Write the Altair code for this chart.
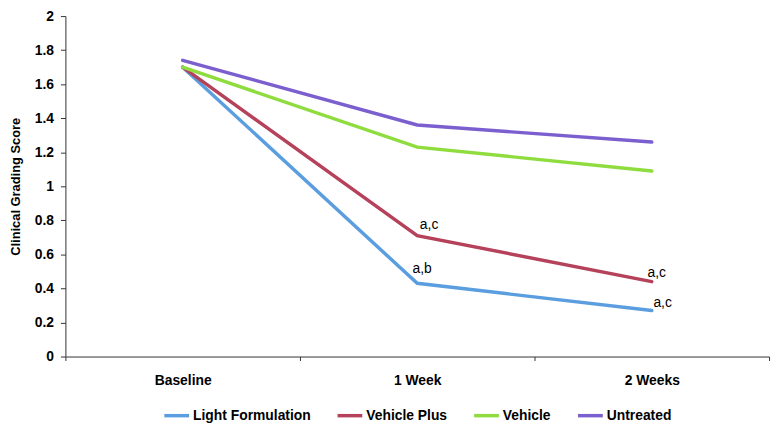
import altair as alt
import pandas as pd

timepoints = ["Baseline", "1 Week", "2 Weeks"]
series_names = ["Light Formulation", "Vehicle Plus", "Vehicle", "Untreated"]
light = [1.70, 0.43, 0.27]
vehicle_plus = [1.70, 0.71, 0.44]
vehicle = [1.70, 1.23, 1.09]
untreated = [1.74, 1.36, 1.26]
y_ticks = [0, 0.2, 0.4, 0.6, 0.8, 1, 1.2, 1.4, 1.6, 1.8, 2]
colors = ["#5b9edf", "#b5425a", "#8fdc3f", "#7b5fcf"]

# significance annotations: (series, timepoint, text)
annotations = [
    ("Light Formulation", "1 Week", "a,b"),
    ("Vehicle Plus", "1 Week", "a,c"),
    ("Vehicle Plus", "2 Weeks", "a,c"),
    ("Light Formulation", "2 Weeks", "a,c"),
]
ann_offsets = [(5, -14), (12, -11), (5, -9), (11, -8)]

values = {"Light Formulation": light, "Vehicle Plus": vehicle_plus,
          "Vehicle": vehicle, "Untreated": untreated}
rows = []
for s in series_names:
    for t, v in zip(timepoints, values[s]):
        rows.append({"series": s, "time": t, "score": v})
df = pd.DataFrame(rows)

FONT = "Liberation Sans"
H = 344

x_enc = alt.X("time:N", sort=timepoints, title=None,
              scale=alt.Scale(type="band", domain=timepoints, paddingInner=0, paddingOuter=0),
              bandPosition=0.5,
              axis=alt.Axis(labelAngle=0, tickBand="extent", tickSize=4, labelPadding=13,
                            labelFont=FONT, labelFontSize=14, labelFontWeight="bold",
                            labelColor="black", domainColor="#333", tickColor="#333",
                            labelOverlap=False, grid=False))
y_enc = alt.Y("score:Q", title="Clinical Grading Score",
              scale=alt.Scale(domain=[0, 2], nice=False),
              axis=alt.Axis(values=y_ticks,
                            format="~g", tickSize=5, labelPadding=7, labelOverlap=False,
                            labelFont=FONT, labelFontSize=14, labelFontWeight="bold",
                            labelColor="black", domainColor="#333", tickColor="#333",
                            titleFont=FONT, titleFontSize=13, titleFontWeight="bold",
                            titleColor="black", titleX=-50, titleY=H / 2,
                            titleBaseline="middle", grid=False))

lines = alt.Chart(df).mark_line(strokeWidth=3.5, strokeCap="round").encode(
    x=x_enc,
    y=y_enc,
    color=alt.Color("series:N", sort=series_names,
                    scale=alt.Scale(domain=series_names, range=colors),
                    legend=alt.Legend(title=None, orient="none", direction="horizontal",
                                      legendX=98, legendY=H + 45,
                                      symbolType="stroke", symbolSize=625,
                                      symbolStrokeWidth=3.5, columnPadding=20,
                                      labelOffset=2,
                                      labelFont=FONT, labelFontSize=14,
                                      labelFontWeight="bold", labelColor="black")),
)

layers = [lines]
for (s, t, txt), (dx, dy) in zip(annotations, ann_offsets):
    v = values[s][timepoints.index(t)]
    adf = pd.DataFrame({"time": [t], "score": [v], "label": [txt]})
    layers.append(
        alt.Chart(adf).mark_text(font=FONT, fontSize=14, color="black", dx=dx, dy=dy,
                                 baseline="middle", align="center").encode(
            x=x_enc,
            y=y_enc,
            text="label:N",
        )
    )

chart = alt.layer(*layers).properties(
    width=711, height=H,
    autosize=alt.AutoSizeParams(type="none"),
    padding={"left": 58, "top": 6, "right": 4, "bottom": 66},
).configure_view(stroke=None)

chart.save("out.html", embed_options={"renderer": "svg", "actions": False})
